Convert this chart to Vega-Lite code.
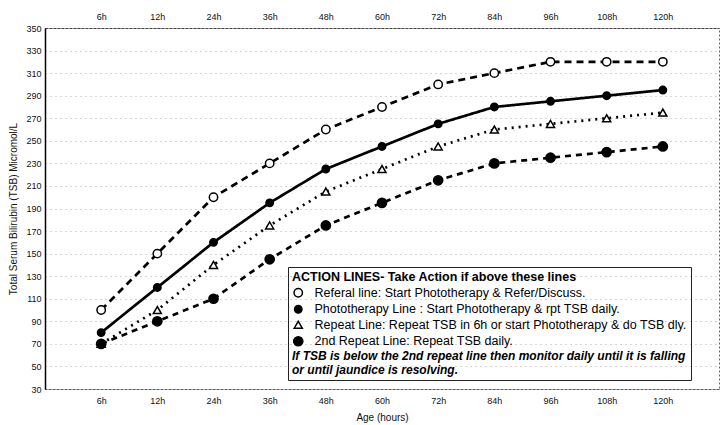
{
  "$schema": "https://vega.github.io/schema/vega-lite/v6.json",
  "width": 674,
  "height": 361,
  "autosize": {"type": "none"},
  "padding": {"left": 45, "top": 28, "right": 2, "bottom": 36},
  "data": {
    "values": [
      {"age": "6h", "series": "Referal", "tsb": 100},
      {"age": "12h", "series": "Referal", "tsb": 150},
      {"age": "24h", "series": "Referal", "tsb": 200},
      {"age": "36h", "series": "Referal", "tsb": 230},
      {"age": "48h", "series": "Referal", "tsb": 260},
      {"age": "60h", "series": "Referal", "tsb": 280},
      {"age": "72h", "series": "Referal", "tsb": 300},
      {"age": "84h", "series": "Referal", "tsb": 310},
      {"age": "96h", "series": "Referal", "tsb": 320},
      {"age": "108h", "series": "Referal", "tsb": 320},
      {"age": "120h", "series": "Referal", "tsb": 320},
      {"age": "6h", "series": "Phototherapy", "tsb": 80},
      {"age": "12h", "series": "Phototherapy", "tsb": 120},
      {"age": "24h", "series": "Phototherapy", "tsb": 160},
      {"age": "36h", "series": "Phototherapy", "tsb": 195},
      {"age": "48h", "series": "Phototherapy", "tsb": 225},
      {"age": "60h", "series": "Phototherapy", "tsb": 245},
      {"age": "72h", "series": "Phototherapy", "tsb": 265},
      {"age": "84h", "series": "Phototherapy", "tsb": 280},
      {"age": "96h", "series": "Phototherapy", "tsb": 285},
      {"age": "108h", "series": "Phototherapy", "tsb": 290},
      {"age": "120h", "series": "Phototherapy", "tsb": 295},
      {"age": "6h", "series": "Repeat", "tsb": 70},
      {"age": "12h", "series": "Repeat", "tsb": 100},
      {"age": "24h", "series": "Repeat", "tsb": 140},
      {"age": "36h", "series": "Repeat", "tsb": 175},
      {"age": "48h", "series": "Repeat", "tsb": 205},
      {"age": "60h", "series": "Repeat", "tsb": 225},
      {"age": "72h", "series": "Repeat", "tsb": 245},
      {"age": "84h", "series": "Repeat", "tsb": 260},
      {"age": "96h", "series": "Repeat", "tsb": 265},
      {"age": "108h", "series": "Repeat", "tsb": 270},
      {"age": "120h", "series": "Repeat", "tsb": 275},
      {"age": "6h", "series": "2nd Repeat", "tsb": 70},
      {"age": "12h", "series": "2nd Repeat", "tsb": 90},
      {"age": "24h", "series": "2nd Repeat", "tsb": 110},
      {"age": "36h", "series": "2nd Repeat", "tsb": 145},
      {"age": "48h", "series": "2nd Repeat", "tsb": 175},
      {"age": "60h", "series": "2nd Repeat", "tsb": 195},
      {"age": "72h", "series": "2nd Repeat", "tsb": 215},
      {"age": "84h", "series": "2nd Repeat", "tsb": 230},
      {"age": "96h", "series": "2nd Repeat", "tsb": 235},
      {"age": "108h", "series": "2nd Repeat", "tsb": 240},
      {"age": "120h", "series": "2nd Repeat", "tsb": 245}
    ]
  },
  "encoding": {
    "y": {
      "field": "tsb",
      "type": "quantitative",
      "title": "Total Serum Bilirubin (TSB) Micromol/L",
      "scale": {"domain": [30, 350], "nice": false, "zero": false},
      "axis": {
        "values": [30, 50, 70, 90, 110, 130, 150, 170, 190, 210, 230, 250, 270, 290, 310, 330, 350],
        "ticks": false,
        "labelPadding": 4,
        "titlePadding": 7,
        "domainColor": "black",
        "domainWidth": 1.5
      }
    }
  },
  "layer": [
    {
      "mark": {"type": "line", "color": "black", "strokeWidth": 2.7},
      "encoding": {
        "x": {
          "field": "age",
          "type": "ordinal",
          "title": "Age (hours)",
          "scale": {
            "type": "point",
            "padding": 1,
            "domain": ["6h", "12h", "24h", "36h", "48h", "60h", "72h", "84h", "96h", "108h", "120h"]
          },
          "axis": {
            "orient": "bottom",
            "labelAngle": 0,
            "ticks": false,
            "labelPadding": 7,
            "titlePadding": 7,
            "domainColor": "#555",
            "domainDash": [2, 2]
          }
        },
        "strokeDash": {
          "field": "series",
          "type": "nominal",
          "scale": {
            "domain": ["Referal", "Phototherapy", "Repeat", "2nd Repeat"],
            "range": [[7, 5], [1, 0], [2, 5], [6, 5]]
          },
          "legend": {
            "orient": "none",
            "legendX": 247,
            "legendY": 243,
            "values": ["Referal"],
            "symbolOpacity": 0,
            "labelOpacity": 0,
            "labelExpr": "''",
            "padding": 0,
            "title": "ACTION LINES- Take Action if above these lines",
            "titleFontSize": 12.5,
            "titleFontWeight": "bold",
            "titleColor": "black",
            "titleLimit": 500,
            "titlePadding": 0
          }
        }
      }
    },
    {
      "mark": {"type": "point", "filled": true, "stroke": "black", "strokeWidth": 1.5, "opacity": 1},
      "encoding": {
        "x": {
          "field": "age",
          "type": "ordinal",
          "scale": {
            "type": "point",
            "padding": 1,
            "domain": ["6h", "12h", "24h", "36h", "48h", "60h", "72h", "84h", "96h", "108h", "120h"]
          },
          "axis": {
            "orient": "top",
            "title": null,
            "labelAngle": 0,
            "ticks": false,
            "grid": false,
            "labelPadding": 7,
            "domainColor": "#444",
            "domainDash": [3, 1]
          }
        },
        "shape": {
          "field": "series",
          "type": "nominal",
          "scale": {
            "domain": ["hdr", "Referal", "Phototherapy", "Repeat", "2nd Repeat"],
            "range": ["M0,0", "circle", "circle", "triangle-up", "circle"]
          },
          "legend": {
            "orient": "none",
            "legendX": 243,
            "legendY": 239,
            "title": ["If TSB is below the 2nd repeat line then monitor daily until it is falling", "or until jaundice is resolving."],
            "titleOrient": "bottom",
            "titleAnchor": "start",
            "titleFontSize": 12,
            "titleFontWeight": "bold",
            "titleFontStyle": "italic",
            "titleLineHeight": 14,
            "titleColor": "black",
            "titlePadding": 2,
            "titleLimit": 500,
            "labelFontSize": 12.5,
            "labelColor": "black",
            "labelLimit": 500,
            "labelOffset": 10,
            "rowPadding": 1.5,
            "padding": 4,
            "strokeColor": "#222",
            "symbolStrokeColor": "black",
            "symbolStrokeWidth": 1.5,
            "labelExpr": "datum.value == 'Referal' ? 'Referal line:  Start Phototherapy & Refer/Discuss.' : datum.value == 'Phototherapy' ? 'Phototherapy Line : Start Phototherapy & rpt TSB daily.' : datum.value == 'Repeat' ? 'Repeat Line: Repeat TSB in 6h or start Phototherapy & do TSB dly.' : datum.value == '2nd Repeat' ? '2nd Repeat Line: Repeat TSB daily.' : ' '"
          }
        },
        "fill": {
          "field": "series",
          "type": "nominal",
          "scale": {
            "domain": ["hdr", "Referal", "Phototherapy", "Repeat", "2nd Repeat"],
            "range": ["white", "white", "black", "white", "black"]
          }
        },
        "size": {
          "field": "series",
          "type": "nominal",
          "scale": {
            "type": "ordinal",
            "domain": ["hdr", "Referal", "Phototherapy", "Repeat", "2nd Repeat"],
            "range": [10, 70, 55, 65, 85]
          }
        }
      }
    }
  ],
  "resolve": {"scale": {"x": "shared"}, "axis": {"x": "independent"}},
  "config": {
    "font": "Liberation Sans",
    "view": {"stroke": "#666", "strokeDash": [2, 2]},
    "axis": {
      "labelFontSize": 9,
      "labelColor": "#111",
      "titleFontSize": 10,
      "titleFontWeight": "normal",
      "titleColor": "#111",
      "gridColor": "#999",
      "gridDash": [1, 4],
      "gridOpacity": 0.8
    }
  }
}
